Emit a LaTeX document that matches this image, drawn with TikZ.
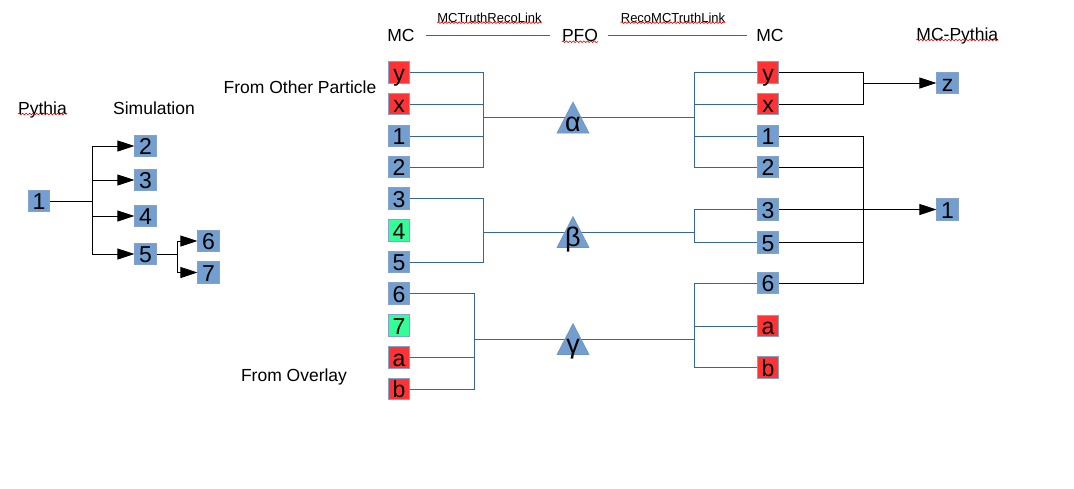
\documentclass[tikz,border=0pt]{standalone}
\usepackage{fontspec}
\setmainfont{Liberation Sans}
\usetikzlibrary{arrows.meta,decorations.pathmorphing}
\definecolor{boxblue}{HTML}{729FCF}
\definecolor{boxred}{HTML}{FF3333}
\definecolor{boxgreen}{HTML}{33FF99}
\definecolor{edgeblue}{HTML}{3465A4}

\begin{document}
\begin{tikzpicture}
	[x=1pt, y=-1pt, >={Triangle[length=17pt,width=11pt]},
	part/.style={draw=edgeblue!60, line width=0.7pt, fill=#1, minimum size=21.5pt, inner sep=0pt, text height=17.4pt, text depth=0pt, font=\fontsize{23}{23}\selectfont},
	part/.default=boxblue,
	lab/.style={anchor=base, inner sep=0pt, font=\fontsize{17.5}{17.5}\selectfont},
	linklab/.style={anchor=base, inner sep=0pt, font=\fontsize{13}{13}\selectfont},
	link/.style={draw=edgeblue, line width=0.8pt},
	tie/.style={draw=black, line width=0.8pt},
	tri/.style={fill=boxblue, draw=edgeblue!70, line width=0.6pt},
	greek/.style={anchor=base, inner sep=0pt, font=\fontsize{27}{27}\selectfont},
	spell/.style={draw=red!90!black, line width=0.6pt, decorate, decoration={snake, amplitude=0.8pt, segment length=3.5pt}}]
	\useasboundingbox (0,0) rectangle (1074,488);
	% headings
	\node[lab] (pythia) at (42.5,114) {Pythia};
	\node[lab] (sim) at (154,114.3) {Simulation};
	\node[lab] (mcL) at (401,41.7) {MC};
	\node[lab] (pfo) at (580,41.7) {PFO};
	\node[lab] (mcR) at (770,41.7) {MC};
	\node[lab] (mcpy) at (957.3,40) {MC-Pythia};
	\node[linklab] (trl) at (489.5,22.7) {MCTruthRecoLink};
	\node[linklab] (rtl) at (673,22.7) {RecoMCTruthLink};
	\node[lab] (other) at (300,93.3) {From Other Particle};
	\node[lab] (overlay) at (294,381) {From Overlay};
	\draw[link, shorten <=11.5pt, shorten >=11.5pt] (mcL) -- (pfo);
	\draw[link, shorten <=10pt, shorten >=9.5pt] (pfo) -- (mcR);
	\foreach \w in {pythia,pfo,mcpy,trl,rtl}
		\draw[spell, yshift=-2pt] (\w.base west) -- (\w.base east);

	% pythia -> simulation
	\node[part] (P1) at (39,201) {1};
	\foreach \n/\yy in {2/146,3/180,4/216,5/254}
		\node[part] (S\n) at (145.5,\yy) {\n};
	\node[part] (S6) at (208.5,241) {6};
	\node[part] (S7) at (208.5,272.5) {7};
	\coordinate (t1) at (92,201);
	\coordinate (t5) at (177,254);
	\draw[tie] (P1) -- (t1);
	\foreach \n in {2,3,4,5}
		\draw[tie,->] (t1) |- (S\n);
	\draw[tie] (S5) -- (t5);
	\draw[tie,->] (t5) |- (S6);
	\draw[tie,->] (t5) |- (S7);

	% MC -> PFO -> MC
	\foreach \n/\c/\yy in {y/boxred/72.5, x/boxred/104, 1/boxblue/136, 2/boxblue/167, 3/boxblue/198.5, 4/boxgreen/230.5, 5/boxblue/262, 6/boxblue/293.5, 7/boxgreen/325.5, a/boxred/357.5, b/boxred/389}
		\node[part=\c] (L\n) at (399,\yy) {\n};
	\foreach \n/\c/\yy in {y/boxred/72.5, x/boxred/104, 1/boxblue/136, 2/boxblue/167, 3/boxblue/209.5, 5/boxblue/242.5, 6/boxblue/283, a/boxred/326, b/boxred/367.5}
		\node[part=\c] (R\n) at (768,\yy) {\n};
	\coordinate (aL) at (483,117);
	\coordinate (aR) at (694,117);
	\coordinate (bL) at (483,232);
	\coordinate (bR) at (694,232);
	\coordinate (gL) at (474,339);
	\coordinate (gR) at (694,339);
	\foreach \n in {y,x,1,2}
		\draw[link] (L\n) -| (aL);
	\foreach \n in {y,x,1,2}
		\draw[link] (aR) |- (R\n);
	\foreach \n in {3,5}
		\draw[link] (L\n) -| (bL);
	\foreach \n in {3,5}
		\draw[link] (bR) |- (R\n);
	\foreach \n in {6,a,b}
		\draw[link] (L\n) -| (gL);
	\foreach \n in {6,a,b}
		\draw[link] (gR) |- (R\n);
	\draw[link] (aL) -- (aR);
	\draw[link] (bL) -- (bR);
	\draw[link] (gL) -- (gR);
	\coordinate (pa) at (573,117.5);
	\coordinate (pb) at (573,232);
	\coordinate (pg) at (573,339);
	\foreach \p/\g in {pa/α,pb/β,pg/γ}{
		\draw[tri] (\p) ++(-16,15.5) -- ++(32,0) -- ++(-16,-31) -- cycle;
		\node[greek] at ([yshift=-14pt]\p) {\g};
	}

	% MC -> MC-Pythia
	\node[part] (Z) at (947.5,83) {z};
	\node[part] (O1) at (947.5,209.5) {1};
	\coordinate (jz) at (863,83);
	\coordinate (j1) at (863,209.5);
	\foreach \n in {y,x}
		\draw[tie] (R\n) -| (jz);
	\draw[tie,->] (jz) -- (Z);
	\foreach \n in {1,2,3,5,6}
		\draw[tie] (R\n) -| (j1);
	\draw[tie,->] (j1) -- (O1);
\end{tikzpicture}
\end{document}
